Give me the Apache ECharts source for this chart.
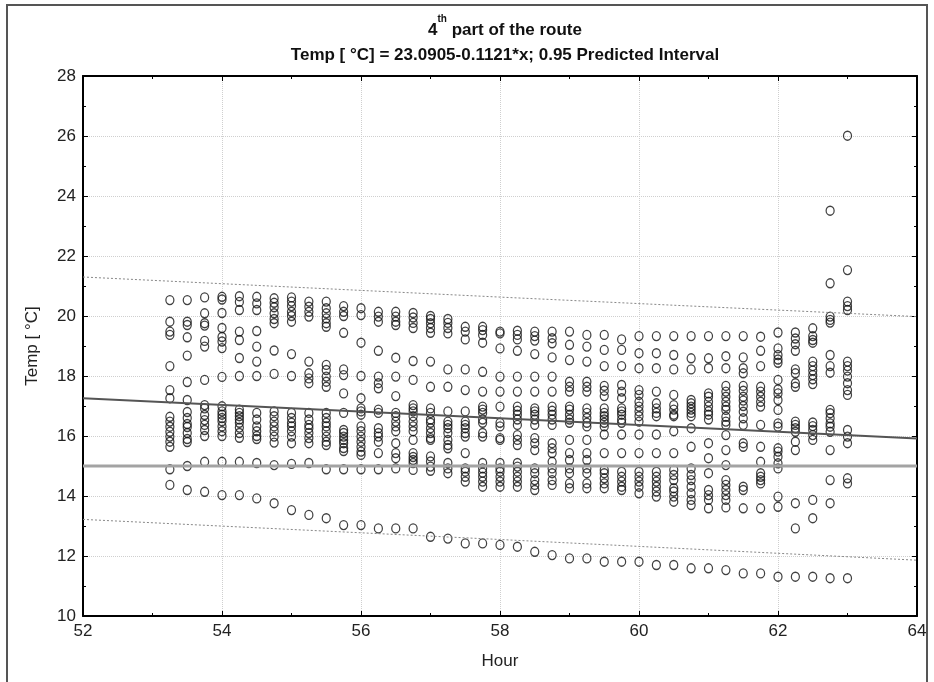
<!DOCTYPE html>
<html>
<head>
<meta charset="utf-8">
<script src="https://cdn.jsdelivr.net/npm/echarts@6/dist/echarts.min.js"></script>
<style>html,body{margin:0;padding:0;background:#fff;}#c{width:934px;height:682px;}</style>
</head>
<body>
<div id="c"></div>
<script>
// Hour columns
const hours = [53.25,53.5,53.75,54,54.25,54.5,54.75,55,55.25,55.5,55.75,56,56.25,56.5,56.75,57,57.25,57.5,57.75,58,58.25,58.5,58.75,59,59.25,59.5,59.75,60,60.25,60.5,60.75,61,61.25,61.5,61.75,62,62.25,62.5,62.75,63];
// Temperatures observed at each hour column
const temps = [
 [20.53,19.81,19.48,19.37,18.33,17.53,17.26,16.64,16.48,16.31,16.14,15.98,15.81,15.64,14.89,14.37],
 [20.53,19.81,19.7,19.29,18.68,17.8,17.2,16.8,16.6,16.4,16.3,16.1,15.9,15.8,15.0,14.2],
 [20.62,20.09,19.76,19.68,19.17,18.98,17.87,17.03,16.92,16.7,16.53,16.37,16.2,16.0,15.14,14.14],
 [20.64,20.55,20.1,19.6,19.3,19.15,18.93,17.97,16.99,16.82,16.71,16.6,16.49,16.32,16.16,16.0,15.14,14.03],
 [20.66,20.47,20.2,19.48,19.2,18.6,18.0,16.88,16.77,16.66,16.55,16.44,16.28,16.1,15.94,15.14,14.03],
 [20.64,20.42,20.2,19.5,18.98,18.48,18.0,16.77,16.55,16.32,16.16,16.0,15.9,15.1,13.92],
 [20.59,20.44,20.29,20.09,19.9,19.76,18.85,18.07,16.82,16.66,16.48,16.32,16.16,15.98,15.78,15.03,13.76],
 [20.62,20.48,20.33,20.14,20.0,19.81,18.73,18.0,16.77,16.6,16.44,16.32,16.16,15.98,15.76,15.07,13.53],
 [20.48,20.31,20.14,19.98,18.48,18.09,17.92,17.76,16.77,16.55,16.37,16.26,16.1,15.93,15.76,15.1,13.37],
 [20.48,20.26,20.09,19.92,19.76,19.64,18.37,18.2,17.98,17.81,17.64,16.77,16.6,16.44,16.32,16.16,15.98,15.81,15.7,14.89,13.26],
 [20.33,20.14,20.0,19.44,18.22,18.03,17.42,16.77,16.2,16.1,15.98,15.87,15.76,15.6,15.5,14.89,13.03],
 [20.26,20.03,19.11,18.0,17.26,16.92,16.82,16.71,16.32,16.16,15.98,15.81,15.64,15.48,15.37,14.89,13.03],
 [20.14,19.98,19.81,18.84,17.98,17.76,17.59,16.88,16.77,16.26,16.1,15.98,15.81,15.43,14.89,12.92],
 [20.14,19.98,19.81,19.7,18.61,17.98,17.33,16.77,16.66,16.48,16.32,16.16,15.76,15.43,15.26,14.92,12.92],
 [20.1,19.95,19.77,19.6,18.5,17.87,17.03,16.92,16.82,16.66,16.48,16.32,16.16,15.87,15.43,15.3,15.2,15.1,14.87,12.92],
 [20.0,19.9,19.76,19.6,19.44,18.48,17.64,16.92,16.77,16.55,16.44,16.26,16.1,15.93,15.87,15.32,15.15,14.98,14.84,12.64],
 [19.9,19.77,19.6,19.42,18.22,17.64,16.82,16.48,16.37,16.26,16.1,15.87,15.7,15.59,15.1,14.92,14.76,12.58],
 [19.64,19.48,19.22,18.22,17.53,16.82,16.48,16.37,16.26,16.1,15.98,15.43,14.92,14.81,14.64,14.48,12.42],
 [19.64,19.53,19.37,19.11,18.14,17.48,16.98,16.88,16.77,16.55,16.44,16.1,15.98,15.1,14.92,14.78,14.64,14.48,14.31,12.42],
 [19.48,19.42,18.92,17.98,17.48,16.98,16.44,16.32,15.93,15.87,15.1,14.92,14.81,14.64,14.48,14.31,12.37],
 [19.51,19.37,19.22,18.84,17.98,17.48,16.98,16.84,16.71,16.55,16.37,16.03,15.87,15.7,15.1,14.98,14.81,14.64,14.48,14.31,12.31],
 [19.48,19.33,19.18,18.73,17.98,17.48,16.92,16.82,16.71,16.55,16.37,15.93,15.76,15.53,14.92,14.76,14.53,14.37,14.2,12.14],
 [19.48,19.26,19.09,18.62,17.98,17.48,16.98,16.84,16.71,16.55,16.37,15.76,15.59,15.43,15.14,14.92,14.76,14.53,14.37,12.03],
 [19.48,19.04,18.53,17.81,17.64,17.48,16.98,16.88,16.71,16.55,16.44,15.87,15.43,15.2,14.92,14.76,14.42,14.26,11.92],
 [19.37,18.98,18.48,17.81,17.64,17.48,16.92,16.77,16.6,16.44,16.32,15.87,15.43,15.2,14.92,14.76,14.42,14.26,11.92],
 [19.37,18.87,18.33,17.67,17.51,17.33,16.92,16.77,16.66,16.55,16.44,16.32,16.05,15.43,14.87,14.76,14.59,14.42,14.26,11.81],
 [19.22,18.87,18.33,17.7,17.48,17.26,16.92,16.82,16.71,16.55,16.44,16.05,15.43,14.81,14.64,14.48,14.31,14.2,11.81],
 [19.33,18.76,18.26,17.53,17.37,17.14,16.98,16.82,16.66,16.48,16.05,15.43,14.81,14.64,14.48,14.31,14.09,11.81],
 [19.33,18.76,18.26,17.48,17.09,16.92,16.77,16.66,16.05,15.43,14.81,14.64,14.48,14.31,14.15,13.98,11.7],
 [19.33,18.7,18.22,17.37,17.03,16.88,16.71,16.66,16.16,15.43,14.87,14.7,14.53,14.26,14.15,13.98,13.81,11.7],
 [19.33,18.59,18.22,17.2,17.09,16.98,16.88,16.77,16.66,16.26,15.64,14.92,14.7,14.53,14.31,14.09,13.87,13.7,11.59],
 [19.33,18.59,18.26,17.42,17.31,17.14,16.98,16.82,16.71,16.55,15.76,15.26,14.76,14.2,14.03,13.87,13.59,11.59],
 [19.33,18.66,18.26,17.67,17.48,17.31,17.14,16.98,16.87,16.64,16.48,16.37,16.03,15.53,15.03,14.53,14.37,14.2,14.03,13.87,13.62,11.53],
 [19.33,18.62,18.26,18.09,17.67,17.51,17.31,17.18,17.0,16.81,16.59,16.37,15.76,15.64,14.31,14.2,13.59,11.42],
 [19.31,18.84,18.33,17.64,17.48,17.31,17.14,16.98,16.37,15.64,15.14,14.76,14.64,14.53,14.42,13.59,11.42],
 [19.45,18.92,18.7,18.55,18.44,17.87,17.55,17.42,17.2,16.87,16.42,16.31,15.59,15.48,15.31,15.09,14.92,13.98,13.64,11.31],
 [19.45,19.25,19.06,18.84,18.22,18.09,17.76,17.64,16.48,16.37,16.26,16.14,15.81,15.53,13.76,12.92,11.31],
 [19.59,19.33,19.2,19.11,18.48,18.33,18.18,18.03,17.89,17.73,16.45,16.33,16.2,16.03,15.87,13.87,13.26,11.31],
 [23.51,21.09,19.98,19.87,19.78,18.7,18.33,18.11,16.87,16.76,16.59,16.42,16.31,16.14,15.53,14.53,13.76,11.26],
 [26.01,21.53,20.48,20.33,20.2,18.48,18.33,18.18,17.98,17.76,17.53,17.37,16.2,15.98,15.76,14.59,14.42,11.26]
];
// Fitted line and 0.95 prediction band (read at 52, 58, 64)
const lineX = [52, 58, 64];
const fitY = [17.26, 16.59, 15.92];
const upperY = [21.30, 20.63, 19.98];
const lowerY = [13.22, 12.55, 11.86];
const refX = [52, 64];
const refY = [15, 15];

const pts = [];
hours.forEach((h, i) => temps[i].forEach(t => pts.push([h, t])));
const pair = (xs, ys) => xs.map((x, i) => [x, ys[i]]);

const FONT = "'Liberation Sans', Arial, sans-serif";
const chart = echarts.init(document.getElementById('c'), null, {renderer: 'canvas'});
const axisCommon = {
  axisLine: {show: true, lineStyle: {color: '#000', width: 2}},
  axisTick: {show: true, inside: true, length: 5, lineStyle: {color: '#000', width: 1}},
  minorTick: {show: true, splitNumber: 2, length: 3, lineStyle: {color: '#000', width: 1}},
};
chart.setOption({
  animation: false,
  backgroundColor: '#fff',
  graphic: [{type: 'rect', shape: {x: 7, y: 5, width: 920, height: 700}, style: {fill: 'none', stroke: '#555', lineWidth: 2}, z: -10}],
  title: [
    {
      text: '{a|4}{s|th}{a| part of the route}',
      left: 500, top: 9, textAlign: 'center',
      textStyle: {
        rich: {
          a: {fontFamily: FONT, fontSize: 17, fontWeight: 'bold', color: '#111', lineHeight: 32},
          s: {fontFamily: FONT, fontSize: 10, fontWeight: 'bold', color: '#111', lineHeight: 8, verticalAlign: 'top'}
        }
      }
    },
    {
      text: 'Temp [ °C] = 23.0905-0.1121*x; 0.95 Predicted Interval',
      left: 500, top: 40, textAlign: 'center',
      textStyle: {fontFamily: FONT, fontSize: 17, fontWeight: 'bold', color: '#111', lineHeight: 20}
    }
  ],
  grid: {left: 83, right: 17, top: 76, bottom: 66},
  xAxis: [
    Object.assign({type: 'value', min: 52, max: 64, interval: 2,
      name: 'Hour', nameLocation: 'middle', nameGap: 37,
      nameTextStyle: {fontFamily: FONT, fontSize: 17, color: '#222'},
      axisLabel: {fontFamily: FONT, fontSize: 17, color: '#222', margin: 7},
      splitLine: {show: true, lineStyle: {color: '#cfcfcf', type: 'dotted', width: 1}}}, axisCommon),
    Object.assign({type: 'value', position: 'top', min: 52, max: 64, interval: 2,
      axisLabel: {show: false}, splitLine: {show: false}}, axisCommon)
  ],
  yAxis: [
    Object.assign({type: 'value', min: 10, max: 28, interval: 2,
      name: 'Temp [ °C]', nameLocation: 'middle', nameGap: 42,
      nameTextStyle: {fontFamily: FONT, fontSize: 17, color: '#222'},
      axisLabel: {fontFamily: FONT, fontSize: 17, color: '#222', margin: 7},
      splitLine: {show: true, lineStyle: {color: '#cfcfcf', type: 'dotted', width: 1}}}, axisCommon),
    Object.assign({type: 'value', position: 'right', min: 10, max: 28, interval: 2,
      axisLabel: {show: false}, splitLine: {show: false}}, axisCommon)
  ],
  series: [
    {type: 'scatter', data: pts, symbol: 'circle', symbolSize: [8, 9],
      itemStyle: {color: 'rgba(255,255,255,0)', borderColor: '#111', borderWidth: 1.3}, z: 2, silent: true},
    {type: 'line', data: pair(refX, refY), symbol: 'none', lineStyle: {color: '#a3a3a3', width: 3}, z: 4},
    {type: 'line', data: pair(lineX, fitY), symbol: 'none', lineStyle: {color: '#555', width: 2}, z: 4},
    {type: 'line', data: pair(lineX, upperY), symbol: 'none', lineStyle: {color: '#888', width: 1, type: [2, 2]}, z: 3},
    {type: 'line', data: pair(lineX, lowerY), symbol: 'none', lineStyle: {color: '#888', width: 1, type: [2, 2]}, z: 3}
  ]
});
</script>
</body>
</html>
